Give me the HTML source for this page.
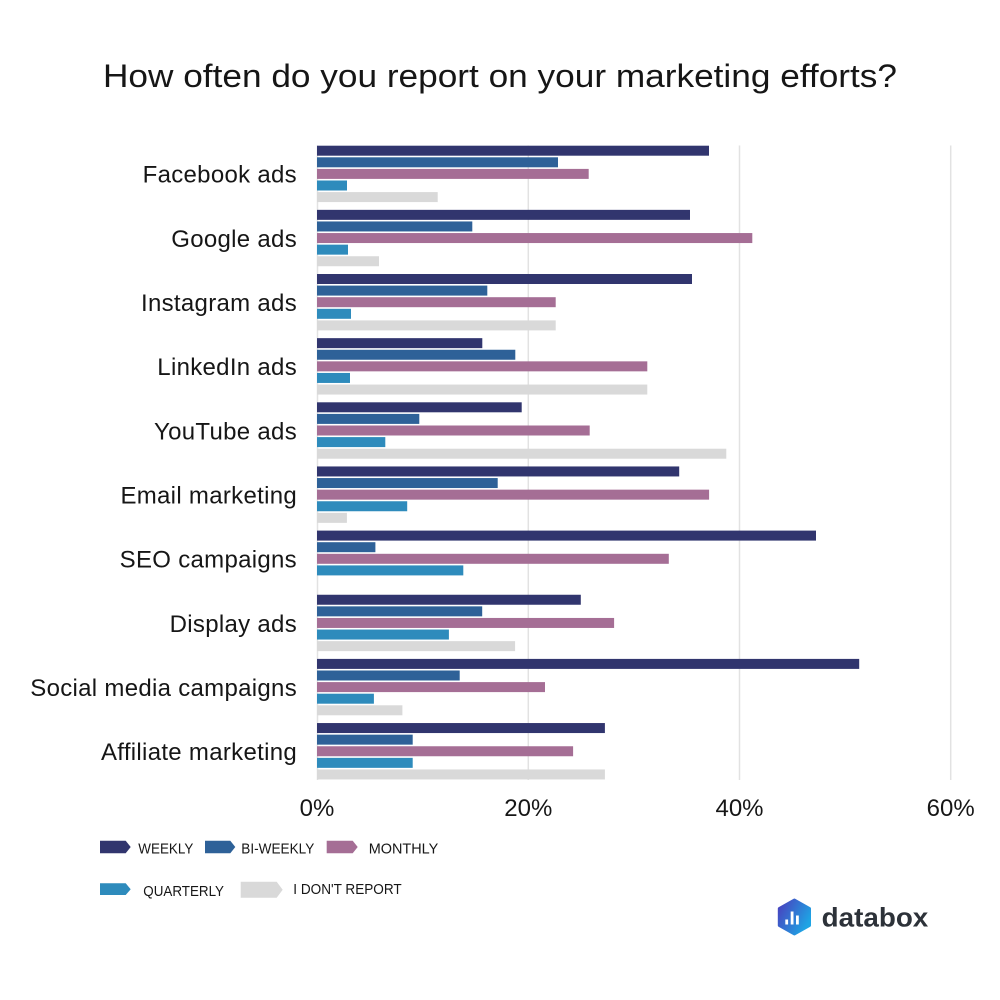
<!DOCTYPE html>
<html><head><meta charset="utf-8"><style>
html,body{margin:0;padding:0;background:#fff;}
svg{display:block;}
text{font-family:"Liberation Sans",Arial,sans-serif;fill:#161616;}
</style></head><body>
<svg width="1000" height="1000" viewBox="0 0 1000 1000" xmlns="http://www.w3.org/2000/svg">
<rect width="1000" height="1000" fill="#fff"/>
<text x="103" y="87" font-size="32" textLength="794" lengthAdjust="spacingAndGlyphs">How often do you report on your marketing efforts?</text>
<g stroke="#e2e2e2" stroke-width="1.5">
<line x1="317.5" y1="145.5" x2="317.5" y2="780"/>
<line x1="528.3" y1="145.5" x2="528.3" y2="780"/>
<line x1="739.5" y1="145.5" x2="739.5" y2="780"/>
<line x1="950.7" y1="145.5" x2="950.7" y2="780"/>
</g>
<g font-size="24" text-anchor="end" letter-spacing="0.3">
<text x="297" y="182.7">Facebook ads</text>
<text x="297" y="246.9">Google ads</text>
<text x="297" y="311.0">Instagram ads</text>
<text x="297" y="375.2">LinkedIn ads</text>
<text x="297" y="439.3">YouTube ads</text>
<text x="297" y="503.5">Email marketing</text>
<text x="297" y="567.6">SEO campaigns</text>
<text x="297" y="631.8">Display ads</text>
<text x="297" y="695.9">Social media campaigns</text>
<text x="297" y="760.1">Affiliate marketing</text>
</g>
<g>
<!-- Facebook -->
<rect x="317" y="145.7" width="392" height="10" fill="#31356e"/>
<rect x="317" y="157.3" width="241" height="10" fill="#2e6198"/>
<rect x="317" y="168.9" width="271.7" height="10" fill="#a56e95"/>
<rect x="317" y="180.5" width="30" height="10" fill="#2e8bbc"/>
<rect x="317" y="192.1" width="120.7" height="10" fill="#d9d9d9"/>
<!-- Google -->
<rect x="317" y="209.85" width="373" height="10" fill="#31356e"/>
<rect x="317" y="221.45" width="155.3" height="10" fill="#2e6198"/>
<rect x="317" y="233.05" width="435.3" height="10" fill="#a56e95"/>
<rect x="317" y="244.65" width="31" height="10" fill="#2e8bbc"/>
<rect x="317" y="256.25" width="62" height="10" fill="#d9d9d9"/>
<!-- Instagram -->
<rect x="317" y="274.0" width="375" height="10" fill="#31356e"/>
<rect x="317" y="285.6" width="170.3" height="10" fill="#2e6198"/>
<rect x="317" y="297.2" width="238.7" height="10" fill="#a56e95"/>
<rect x="317" y="308.8" width="34" height="10" fill="#2e8bbc"/>
<rect x="317" y="320.4" width="238.7" height="10" fill="#d9d9d9"/>
<!-- LinkedIn -->
<rect x="317" y="338.15" width="165.3" height="10" fill="#31356e"/>
<rect x="317" y="349.75" width="198.3" height="10" fill="#2e6198"/>
<rect x="317" y="361.35" width="330.3" height="10" fill="#a56e95"/>
<rect x="317" y="372.95" width="33" height="10" fill="#2e8bbc"/>
<rect x="317" y="384.55" width="330.3" height="10" fill="#d9d9d9"/>
<!-- YouTube -->
<rect x="317" y="402.3" width="204.7" height="10" fill="#31356e"/>
<rect x="317" y="413.9" width="102.3" height="10" fill="#2e6198"/>
<rect x="317" y="425.5" width="272.7" height="10" fill="#a56e95"/>
<rect x="317" y="437.1" width="68.3" height="10" fill="#2e8bbc"/>
<rect x="317" y="448.7" width="409.3" height="10" fill="#d9d9d9"/>
<!-- Email -->
<rect x="317" y="466.45" width="362.2" height="10" fill="#31356e"/>
<rect x="317" y="478.05" width="180.7" height="10" fill="#2e6198"/>
<rect x="317" y="489.65" width="392.1" height="10" fill="#a56e95"/>
<rect x="317" y="501.25" width="90.2" height="10" fill="#2e8bbc"/>
<rect x="317" y="512.85" width="29.9" height="10" fill="#d9d9d9"/>
<!-- SEO -->
<rect x="317" y="530.6" width="499" height="10" fill="#31356e"/>
<rect x="317" y="542.2" width="58.4" height="10" fill="#2e6198"/>
<rect x="317" y="553.8" width="351.8" height="10" fill="#a56e95"/>
<rect x="317" y="565.4" width="146.3" height="10" fill="#2e8bbc"/>
<!-- Display -->
<rect x="317" y="594.75" width="263.8" height="10" fill="#31356e"/>
<rect x="317" y="606.35" width="165.2" height="10" fill="#2e6198"/>
<rect x="317" y="617.95" width="297.1" height="10" fill="#a56e95"/>
<rect x="317" y="629.55" width="131.9" height="10" fill="#2e8bbc"/>
<rect x="317" y="641.15" width="198.1" height="10" fill="#d9d9d9"/>
<!-- Social -->
<rect x="317" y="658.9" width="542.2" height="10" fill="#31356e"/>
<rect x="317" y="670.5" width="142.7" height="10" fill="#2e6198"/>
<rect x="317" y="682.1" width="228" height="10" fill="#a56e95"/>
<rect x="317" y="693.7" width="56.9" height="10" fill="#2e8bbc"/>
<rect x="317" y="705.3" width="85.4" height="10" fill="#d9d9d9"/>
<!-- Affiliate -->
<rect x="317" y="723.05" width="287.9" height="10" fill="#31356e"/>
<rect x="317" y="734.65" width="95.7" height="10" fill="#2e6198"/>
<rect x="317" y="746.25" width="256.1" height="10" fill="#a56e95"/>
<rect x="317" y="757.85" width="95.7" height="10" fill="#2e8bbc"/>
<rect x="317" y="769.45" width="287.9" height="10" fill="#d9d9d9"/>
</g>
<g font-size="24" text-anchor="middle">
<text x="317" y="816">0%</text>
<text x="528.3" y="816">20%</text>
<text x="739.5" y="816">40%</text>
<text x="950.7" y="816">60%</text>
</g>
<!-- legend -->
<g>
<polygon points="100,840.7 125.7,840.7 130.7,847 125.7,853.3 100,853.3" fill="#31356e"/>
<polygon points="205,840.7 230.3,840.7 235.3,847 230.3,853.3 205,853.3" fill="#2e6198"/>
<polygon points="326.7,840.7 352.7,840.7 357.7,847 352.7,853.3 326.7,853.3" fill="#a56e95"/>
<polygon points="100,883.3 125.7,883.3 130.7,889.2 125.7,895 100,895" fill="#2e8bbc"/>
<polygon points="240.7,881.7 276.7,881.7 282.7,889.7 276.7,897.7 240.7,897.7" fill="#d9d9d9"/>
</g>
<g font-size="14.5">
<text x="138.3" y="853.3" textLength="55" lengthAdjust="spacingAndGlyphs">WEEKLY</text>
<text x="241.3" y="853.3" textLength="73" lengthAdjust="spacingAndGlyphs">BI-WEEKLY</text>
<text x="368.7" y="853.3" textLength="69.6" lengthAdjust="spacingAndGlyphs">MONTHLY</text>
<text x="143.3" y="896" textLength="80.7" lengthAdjust="spacingAndGlyphs">QUARTERLY</text>
<text x="293.3" y="894" textLength="108.4" lengthAdjust="spacingAndGlyphs">I DON'T REPORT</text>
</g>
<!-- logo -->
<defs>
<linearGradient id="lg" x1="0" y1="0" x2="1" y2="0.6">
<stop offset="0" stop-color="#4a3ebd"/>
<stop offset="1" stop-color="#1ea4e4"/>
</linearGradient>
</defs>
<polygon points="794.4,900 809.5,908.5 809.5,925.5 794.4,934 779.3,925.5 779.3,908.5" fill="url(#lg)" stroke="url(#lg)" stroke-width="3" stroke-linejoin="round"/>
<g fill="#fff">
<rect x="785.3" y="919.5" width="2.8" height="5"/>
<rect x="790.7" y="911.5" width="2.8" height="13"/>
<rect x="796" y="915.5" width="2.8" height="9"/>
</g>
<text x="821.7" y="926.7" font-size="27" font-weight="bold" textLength="106.6" lengthAdjust="spacingAndGlyphs" style="fill:#2d3239">databox</text>
</svg>
</body></html>
